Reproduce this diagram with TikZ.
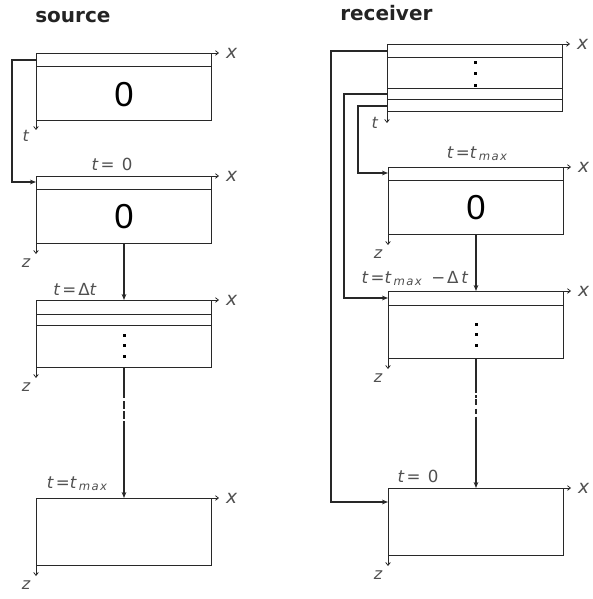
\documentclass[tikz,border=0pt]{standalone}
\usepackage{fontspec}
\setmainfont{DejaVu Sans}
\newfontfamily\digitfont{Liberation Sans}
\newfontfamily\lblfont[LetterSpace=12]{DejaVu Sans}
\usepackage{tikz}
\usetikzlibrary{arrows.meta}
\definecolor{lblgray}{RGB}{80,80,80}
\definecolor{titlegray}{RGB}{35,35,35}
\definecolor{linegray}{RGB}{40,40,40}
\newcommand{\tmax}{\textit{t}\textsubscript{\textit{max}}}
\tikzset{
  slab/.style={draw=linegray, line width=0.75pt, inner sep=0pt, minimum width=131.25pt, minimum height=50.25pt, anchor=north west},
  axis/.style={draw=linegray, line width=0.6pt, -{Straight Barb[length=2.2pt,width=3.5pt]}},
  conn/.style={draw=linegray, line width=0.85pt, -{Stealth[length=4.5pt,width=3.5pt]}},
  lbl/.style={text=lblgray, inner sep=0pt, font=\lblfont\fontsize{12.5}{14}\selectfont},
  xlbl/.style={lbl, anchor=west, xshift=5pt, font=\lblfont\fontsize{14}{16}\selectfont\itshape},
  zlbl/.style={lbl, anchor=base east, font=\lblfont\fontsize{12}{14}\selectfont\itshape},
  tlbl/.style={lbl, anchor=base},
  zero/.style={font=\digitfont\fontsize{26}{28}\selectfont},
  title/.style={anchor=base west, text=titlegray, inner sep=0pt, font=\bfseries\fontsize{15}{18}\selectfont},
}
\begin{document}
\begin{tikzpicture}[x=0.75pt,y=-0.75pt]
\useasboundingbox (0,0) rectangle (592,599);

\node[title] (src) at (35,23) {source};
\node[title] (rcv) at (340,21) {receiver};

% source side
\node[slab] (s1) at (36,53) {};
\node[slab] (s2) at (36,176) {};
\node[slab] (s3) at (36,300) {};
\node[slab] (s4) at (36,498) {};
% receiver side
\node[slab] (r1) at (387,44) {};
\node[slab] (r2) at (388,167) {};
\node[slab] (r3) at (388,291) {};
\node[slab] (r4) at (388,488) {};

% layers and contents
\foreach \b/\d in {s1/14, s2/13, s3/14, s3/25, r1/14, r1/45, r1/56, r2/13, r3/14}
  \draw[draw=linegray, line width=0.75pt] ([shift={(0,\d)}]\b.north west) -- ([shift={(0,\d)}]\b.north east);
\node[zero] (s1-val) at ([shift={(0,-26)}]s1.south) {0};
\node[zero] (s2-val) at ([shift={(0,-27)}]s2.south) {0};
\node[zero] (r2-val) at ([shift={(0,-27)}]r2.south) {0};
\foreach \b/\d in {s3/12, s3/23, s3/33, r1/26, r1/38, r1/49, r3/14, r3/25, r3/35}
  \fill ([shift={(-1.5,-\d-1.5)}]\b.south) rectangle ++(3,3);

% axes
\foreach \b in {s1,s2,s3,s4,r1,r2,r3,r4}
  \draw[axis] (\b.north east) -- ++(7,0) node[xlbl] (\b-x) {x};
\foreach \b in {s2,s3,s4,r2,r3,r4}
  \draw[axis] (\b.south west) -- ++(0,10) node[zlbl, xshift=-4pt, yshift=-10pt] (\b-z) {z};
\draw[axis] (s1.south west) -- ++(0,9) node[zlbl, xshift=-5pt, yshift=-9pt] (s1-t) {t};
\draw[axis] (r1.south west) -- ++(0,11) node[zlbl, xshift=-6.5pt, yshift=-4.5pt] (r1-t) {t};

% time steps, source
\draw[conn] ([shift={(0,7)}]s1.north west) -- ++(-24,0) |- ([shift={(0,6)}]s2.north west);
\draw[conn] (s2.south) -- (s3.north);
\draw[conn, dash pattern=on 22.5pt off 2.25pt on 6pt off 1.5pt on 6pt off 1.5pt on 200pt] (s3.south) -- (s4.north);
\node[tlbl] (s2-time) at ([shift={(-12,-5)}]s2.north) {\textit{t}= 0};
\node[tlbl] (s3-time) at ([shift={(-48,-5)}]s3.north) {\textit{t}=Δ\textit{t}};
\node[tlbl] (s4-time) at ([shift={(-46,-10)}]s4.north) {\textit{t}=\tmax};

% time steps, receiver
\draw[conn] ([shift={(0,7)}]r1.north west) -- ++(-56,0) |- ([shift={(0,14)}]r4.north west);
\draw[conn] ([shift={(0,50)}]r1.north west) -- ++(-43,0) |- ([shift={(0,7)}]r3.north west);
\draw[conn] ([shift={(0,62)}]r1.north west) -- ++(-29,0) |- ([shift={(0,6)}]r2.north west);
\draw[conn] (r2.south) -- (r3.north);
\draw[conn, dash pattern=on 25.5pt off 1.5pt on 2.25pt off 1pt on 4pt off 3pt on 4pt off 2pt on 200pt] (r3.south) -- (r4.north);
\node[tlbl] (r2-time) at ([shift={(2,-9)}]r2.north) {\textit{t}=\tmax};
\node[tlbl] (r3-time) at ([shift={(-60,-8)}]r3.north) {\textit{t}=\tmax\ −Δ\,\textit{t}};
\node[tlbl] (r4-time) at ([shift={(-58,-6)}]r4.north) {\textit{t}= 0};
\end{tikzpicture}
\end{document}
